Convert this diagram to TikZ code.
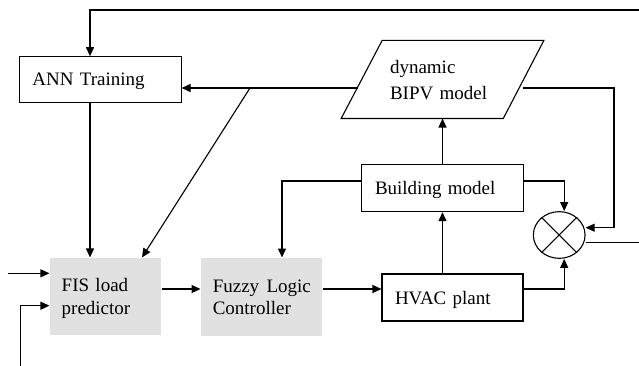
\documentclass[tikz,border=0pt]{standalone}
\usepackage{fontspec}
\setmainfont{Liberation Serif}
\usetikzlibrary{arrows.meta,calc,shapes.geometric}
\definecolor{boxgray}{RGB}{225,225,225}
\begin{document}
\begin{tikzpicture}[x=1pt,y=-1pt,line width=1.1pt,
  arr/.style={-{Triangle[length=9pt,width=8pt]}},
  blk/.style={font=\fontsize{19}{22.3}\selectfont, inner ysep=0pt, align=left, anchor=center},
  oneline/.style={text depth=0pt},
  twoline/.style={text depth=#1},
  framed/.style={blk, draw},
  shaded/.style={blk, fill=boxgray}]
\useasboundingbox (0,0) rectangle (639,366);
% blocks
\node[framed, oneline, minimum width=161.7pt, minimum height=46pt, inner xsep=13pt, text width=135.7pt] (ann) at (100.2,79.7) {ANN Training};
\node[shaded, twoline=22.3pt, minimum width=111pt, minimum height=77pt, inner xsep=11.7pt, text width=87.6pt] (fis) at (105.5,296.5) {FIS load\\predictor};
\node[shaded, twoline=22.3pt, minimum width=121.3pt, minimum height=77.7pt, inner xsep=11.7pt, text width=97.9pt] (flc) at (261.7,296.9) {\mbox{Fuzzy\hspace{1pt} Logic}\\Controller};
\node[framed, oneline, minimum width=141pt, minimum height=47pt, inner xsep=13pt, text width=115pt] (hvac) at (452.5,297.5) {HVAC plant};
\node[framed, oneline, minimum width=161.6pt, minimum height=46.7pt, inner xsep=13.3pt, text width=135pt] (bld) at (442.5,188.3) {Building model};
\node[blk, twoline=26pt, minimum width=201.6pt, minimum height=77pt, inner xsep=48.3pt, text width=105pt, font=\fontsize{19}{26}\selectfont] (bipv) at (442.5,79.5) {dynamic\\BIPV model};
\draw (bipv.south west) -- ($(bipv.south east)+(-40.6,0)$) -- (bipv.north east) -- ($(bipv.north west)+(41,0)$) -- cycle;
\node[draw, ellipse, minimum width=51.7pt, minimum height=46.7pt, inner sep=0pt] (circ) at (559.2,235) {};
\draw (circ.45) -- (circ.225) (circ.135) -- (circ.315);
% coordinates
\coordinate (topR) at (639,10);
\coordinate (bL) at (357.5,88);
\coordinate (bR) at (523.3,88);
\coordinate (br) at (250,88);
\coordinate (rT) at (614,88);
\coordinate (outR) at (639,242.3);
\coordinate (in1) at (8.3,273.3);
\coordinate (in2) at (20.7,366);
% connectors
\draw[arr] (topR) -| ([xshift=-10.2pt]ann.north);
\draw[arr] ([xshift=-10.2pt]ann.south) -- ([xshift=-10.2pt]ann.south |- fis.north);
\draw[arr] (bL) -- (bL -| ann.east);
\draw[arr] (br) -- ([xshift=36.5pt]fis.north);
\draw[arr] ([yshift=7.3pt]bld.west) -| ([xshift=20.3pt]flc.north);
\draw[arr] ([yshift=7.5pt]fis.east) -- ([yshift=7.5pt]fis.east -| flc.west);
\draw[arr] ([yshift=7.9pt]flc.east) -- ([yshift=7.9pt]flc.east -| hvac.west);
\draw[arr] (hvac.north -| bld.south) -- (bld.south);
\draw[arr] (bld.north) -- (bld.north |- bipv.south);
\draw[arr] ([yshift=7.3pt]bld.east) -| ([xshift=5pt]circ.north);
\draw[arr] ([yshift=8.5pt]hvac.east) -| ([xshift=5pt]circ.south);
\draw[arr] (bR) -- (rT) |- ([yshift=7.3pt]circ.east);
\draw ([yshift=-7.3pt]circ.east) -- (outR);
\draw[arr] (in1) -- (in1 -| fis.west);
\draw[arr] (in2) |- ([yshift=-9.2pt]fis.west);
\end{tikzpicture}
\end{document}
